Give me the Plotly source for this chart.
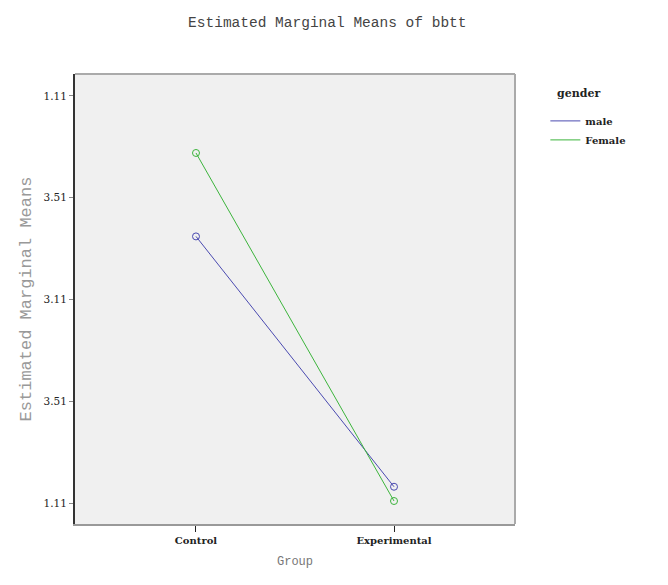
import plotly.graph_objects as go

groups = ["Control", "Experimental"]
male = [3.31, 2.08]
female = [3.72, 2.01]
tick_vals = [4.0, 3.5, 3.0, 2.5, 2.0]
tick_text = ["1.11", "3.51", "3.11", "3.51", "1.11"]
series = [("male", male, "#4a4ab0"), ("Female", female, "#3cb43c")]

fig = go.Figure()
for name, vals, col in series:
    fig.add_trace(go.Scatter(x=groups, y=vals, name=name, mode="lines+markers", showlegend=False,
                             line=dict(color=col, width=1),
                             marker=dict(symbol="circle-open", size=7, color=col)))
for name, vals, col in series:
    fig.add_trace(go.Scatter(x=[None], y=[None], name="<b>" + name + "</b>", mode="lines",
                             line=dict(color=col, width=1)))

fig.update_layout(
    width=668, height=585,
    margin=dict(l=75, r=153, t=74, b=61),
    paper_bgcolor="white", plot_bgcolor="#f0f0f0",
    title=dict(text="Estimated Marginal Means of bbtt", x=0.49, xanchor="center",
               y=0.962, yanchor="middle",
               font=dict(family="Liberation Mono", size=14.5, color="#444")),
    showlegend=True,
    legend=dict(x=1.069, y=0.928, xanchor="left", yanchor="top",
                font=dict(family="DejaVu Serif", size=10, color="#222"),
                bgcolor="rgba(0,0,0,0)", tracegroupgap=0, itemwidth=30),
    annotations=[dict(text="<b>gender</b>", xref="paper", yref="paper",
                      x=(555 - 75) / 440, y=(524 - 94) / 450, xanchor="left", yanchor="middle",
                      showarrow=False, font=dict(family="DejaVu Serif", size=11, color="#222"))],
    shapes=[
        dict(type="line", xref="paper", yref="paper", x0=0, x1=1, y0=1, y1=1,
             line=dict(color="#aaa", width=2)),
        dict(type="line", xref="paper", yref="paper", x0=1, x1=1, y0=0, y1=1,
             line=dict(color="#aaa", width=2)),
    ],
    xaxis=dict(type="category", range=[-0.611, 1.611], showgrid=False, zeroline=False,
               showline=True, linecolor="#999", linewidth=2,
               ticks="outside", ticklen=6, tickcolor="#222",
               tickfont=dict(family="DejaVu Serif", size=10, color="#222"),
               title=dict(text="Group", font=dict(family="Liberation Mono", size=12, color="#777"),
                          standoff=12)),
    yaxis=dict(range=[1.897, 4.108], showgrid=False, zeroline=False,
               showline=True, linecolor="#333", linewidth=2,
               ticks="outside", ticklen=4, tickcolor="#888",
               tickvals=tick_vals, ticktext=tick_text,
               tickfont=dict(family="DejaVu Serif", size=10.5, color="#222"),
               title=dict(text="Estimated Marginal Means",
                          font=dict(family="Liberation Mono", size=17, color="#999"),
                          standoff=8)),
)
fig.update_xaxes(tickprefix="<b>", ticksuffix="</b>")
fig.update_yaxes(tickprefix="<b>", ticksuffix="</b>")
fig.write_html("out.html")
